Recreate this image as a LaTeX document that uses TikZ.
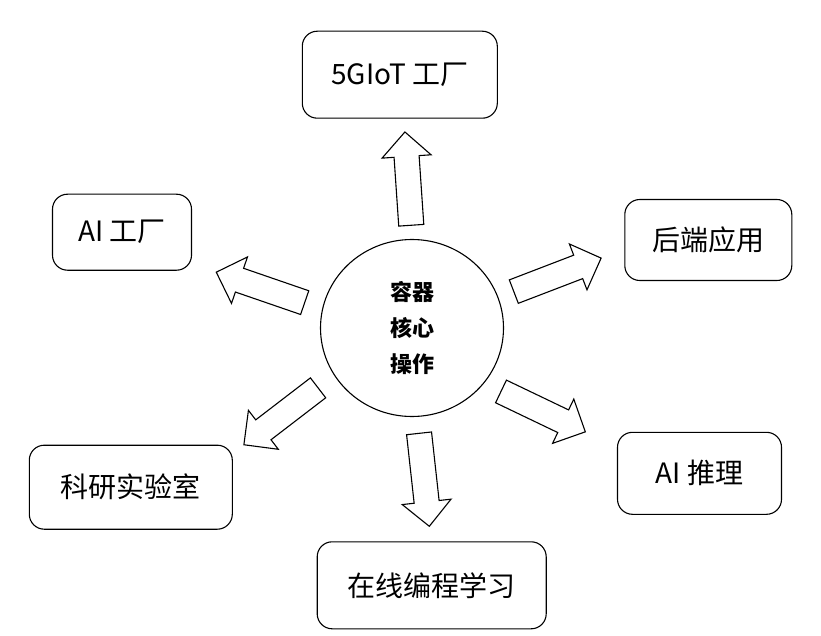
\documentclass[tikz,border=0pt]{standalone}
\usepackage{fontspec}
\setmainfont{Noto Sans CJK SC}
\usepackage{tikz}
\usetikzlibrary{shapes.arrows,shapes.geometric}

\begin{document}
\begin{tikzpicture}[
    x=1pt, y=-1pt,
    font=\fontsize{28}{34}\selectfont,
    block/.style={
		rectangle,
		rounded corners=15pt,
		draw=black,
		line width=1.1pt,
		inner sep=0pt,
		text centered,
		fill=white
	},
	core/.style={
		ellipse,
		draw=black,
		line width=1.1pt,
		minimum width=183pt,
		minimum height=177pt,
		inner sep=0pt,
		align=center,
		font=\bfseries\fontsize{22}{36}\selectfont
	},
	bigarrow/.style={
		single arrow,
		draw=black,
		line width=1.1pt,
		inner sep=12pt,
		minimum width=48pt,
		single arrow head extend=12pt,
		minimum height=93.5pt,
		anchor=tail
	}
  ]
  \useasboundingbox (0,0) rectangle (821,636);

  % the core in the middle
  \node [core] (core) at (412,328) {容器\\核心\\操作};

  % the blocks round it
  \node [block, minimum width=195pt, minimum height=87pt] (iot) at (399.8,74.7) {5GIoT 工厂};
  \node [block, minimum width=139pt, minimum height=76pt] (aifab) at (122,232.2) {AI 工厂};
  \node [block, minimum width=167pt, minimum height=81pt] (backend) at (708.3,240) {后端应用};
  \node [block, minimum width=203pt, minimum height=84pt] (lab) at (130.8,487.2) {科研实验室};
  \node [block, minimum width=164pt, minimum height=82pt] (infer) at (699.5,473.3) {AI 推理};
  \node [block, minimum width=229pt, minimum height=87pt] (coding) at (431.7,585.3) {在线编程学习};

  % the arrows going out of the core
  \node [bigarrow, rotate=93.9] (toiot) at (411.3,225.8) {};
  \node [bigarrow, rotate=161] (toaifab) at (305.2,302.8) {};
  \node [bigarrow, rotate=217.5] (tolab) at (318.5,387.5) {};
  \node [bigarrow, rotate=21] (tobackend) at (513.3,291.8) {};
  \node [bigarrow, rotate=-25.6] (toinfer) at (500.5,391.2) {};
  \node [bigarrow, rotate=-83.7] (tocoding) at (419,432.8) {};

\end{tikzpicture}
\end{document}
